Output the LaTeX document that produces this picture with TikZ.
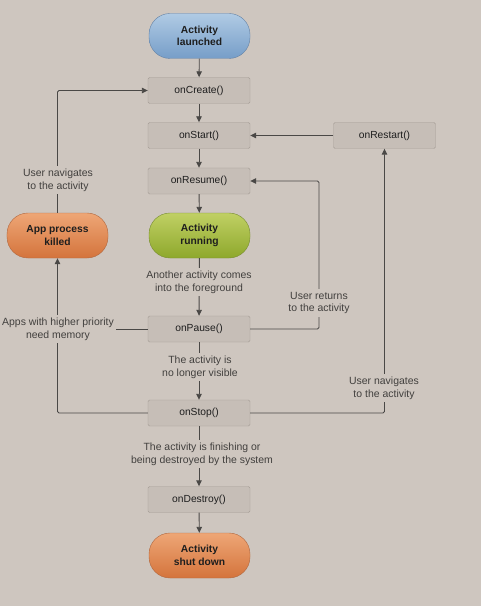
\documentclass[tikz,border=0pt]{standalone}
\usepackage{fontspec}
\setmainfont{Liberation Sans}
\usetikzlibrary{arrows.meta}
\definecolor{bg}{RGB}{206,198,191}
\definecolor{boxfill}{RGB}{198,190,183}
\definecolor{boxborder}{RGB}{165,157,150}
\definecolor{linec}{RGB}{74,72,70}
\definecolor{lblc}{RGB}{66,64,62}
\definecolor{txtc}{RGB}{30,30,30}
\definecolor{bluetop}{RGB}{176,202,228}
\definecolor{bluebot}{RGB}{118,158,200}
\definecolor{blueedge}{RGB}{100,130,165}
\definecolor{greentop}{RGB}{192,208,100}
\definecolor{greenbot}{RGB}{142,168,44}
\definecolor{greenedge}{RGB}{120,140,50}
\definecolor{orangetop}{RGB}{238,166,118}
\definecolor{orangebot}{RGB}{212,116,60}
\definecolor{orangeedge}{RGB}{176,104,64}
\tikzset{
  method/.style={draw=boxborder, fill=boxfill, rounded corners=1.5bp, minimum width=102bp,
    minimum height=26bp, inner sep=0pt, text=txtc, font=\fontsize{10.3}{12}\selectfont},
  state/.style={rounded corners=21bp, minimum width=101bp, minimum height=45bp, inner sep=0pt,
    align=center, text=txtc, font=\bfseries\fontsize{10.3}{12.5}\selectfont},
  bluestate/.style={state, draw=blueedge, top color=bluetop, bottom color=bluebot},
  greenstate/.style={state, draw=greenedge, top color=greentop, bottom color=greenbot},
  orangestate/.style={state, draw=orangeedge, top color=orangetop, bottom color=orangebot},
  lbl/.style={align=center, text=lblc, fill=bg, inner xsep=2bp, inner ysep=3bp,
    font=\fontsize{10.5}{13}\selectfont},
  conn/.style={draw=linec, line width=0.9bp, rounded corners=1.5bp},
  arr/.style={conn, -{Triangle[length=6bp,width=5.5bp]}},
}
\begin{document}
\begin{tikzpicture}[x=1bp,y=-1bp]
\fill[bg] (0,0) rectangle (481,606);
\useasboundingbox (0,0) rectangle (481,606);

\node[bluestate] (launched) at (199.5,36) {Activity\\launched};
\node[method] (onCreate) at (199,90.5) {onCreate()};
\node[method] (onStart) at (199,135.5) {onStart()};
\node[method] (onRestart) at (384.5,135.5) {onRestart()};
\node[method] (onResume) at (199,181) {onResume()};
\node[greenstate] (running) at (199.5,235.5) {Activity\\running};
\node[orangestate] (killed) at (57.5,235.5) {App process\\killed};
\node[method] (onPause) at (199,329) {onPause()};
\node[method] (onStop) at (199,413) {onStop()};
\node[method] (onDestroy) at (199,499.5) {onDestroy()};
\node[orangestate] (shutdown) at (199.5,555.5) {Activity\\shut down};

\coordinate (retx) at (319,0);

\draw[arr] (launched) -- (onCreate);
\draw[arr] (onCreate) -- (onStart);
\draw[arr] (onStart) -- (onResume);
\draw[arr] (onResume) -- (running);
\draw[arr] (running) -- (onPause);
\draw[arr] (onPause) -- (onStop);
\draw[arr] (onStop) -- (onDestroy);
\draw[arr] (onDestroy) -- (shutdown);
\draw[arr] (onRestart.west) -- (onStart.east);
\draw[arr] (onStop.east) -| (onRestart.south);
\draw[arr] (onPause.east) -- (onPause.east -| retx) |- (onResume.east);
\draw[arr] (onStop.west) -| (killed.south);
\draw[conn] (onPause.west) -- (onPause.west -| killed.south);
\draw[arr] (killed.north) |- (onCreate.west);

\node[lbl] (l1) at (58,180) {User navigates\\to the activity};
\node[lbl] (l2) at (199,282) {Another activity comes\\into the foreground};
\node[lbl] (l3) at (319,303) {User returns\\to the activity};
\node[lbl] (l4) at (58,329) {Apps with higher priority\\need memory};
\node[lbl] (l5) at (200,367) {The activity is\\no longer visible};
\node[lbl] (l6) at (384,388) {User navigates\\to the activity};
\node[lbl] (l7) at (202,454) {The activity is finishing or\\being destroyed by the system};
\end{tikzpicture}
\end{document}
